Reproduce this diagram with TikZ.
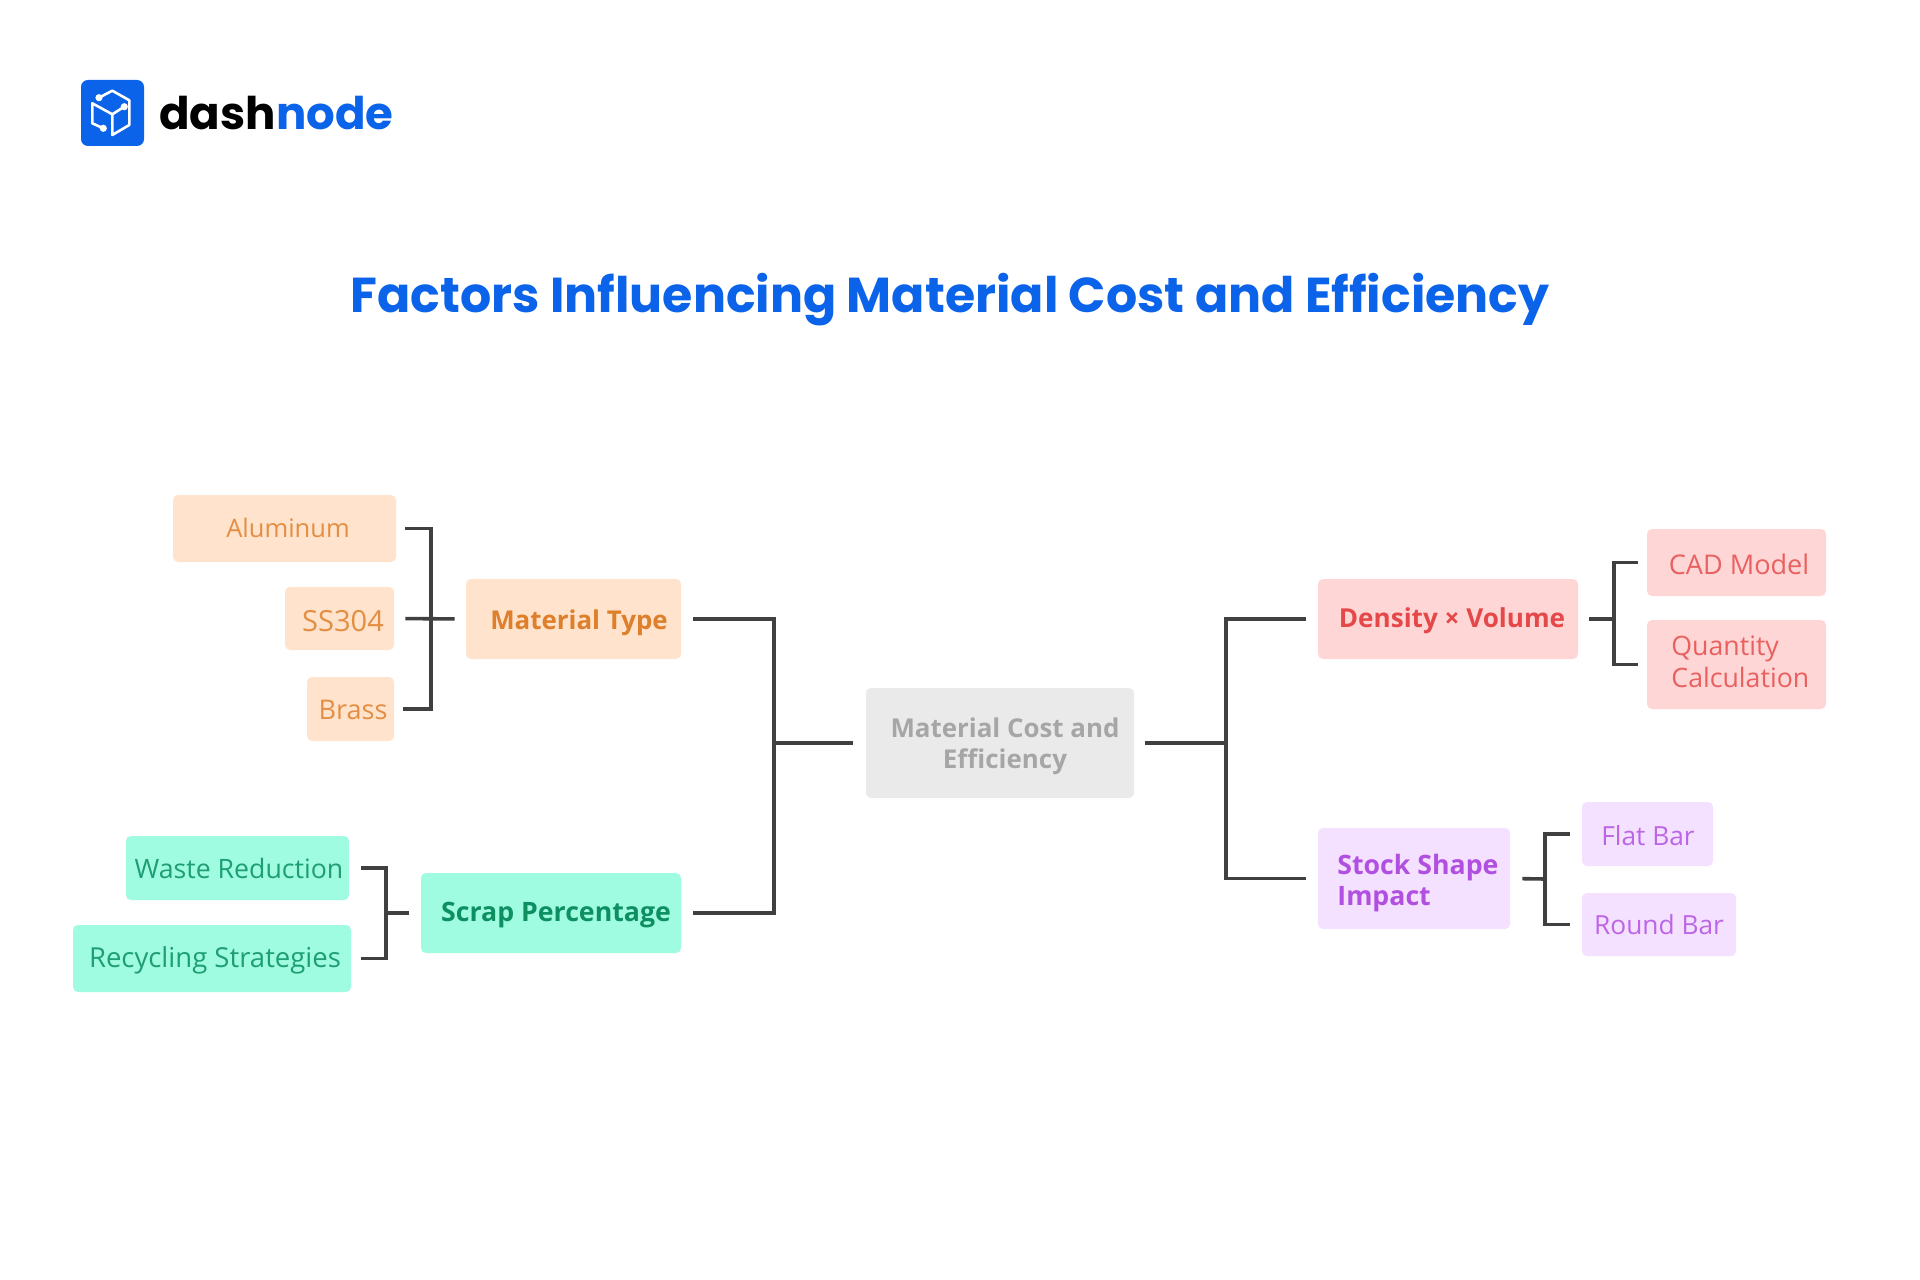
\documentclass[tikz,border=0pt]{standalone}
\usepackage{fontspec}
\setmainfont{Open Sans}
\newfontfamily\headfont{Poppins}
\definecolor{brand}{HTML}{0B63EA}
\definecolor{linec}{HTML}{404040}
\definecolor{orbg}{HTML}{FFE3CC}\definecolor{ortx}{HTML}{E38E43}\definecolor{ortb}{HTML}{DD7F2B}
\definecolor{grbg}{HTML}{9FFCE0}\definecolor{grtx}{HTML}{1E9E72}\definecolor{grtb}{HTML}{0E8F62}
\definecolor{rdbg}{HTML}{FFD6D6}\definecolor{rdtx}{HTML}{E96060}\definecolor{rdtb}{HTML}{E54848}
\definecolor{pubg}{HTML}{F4E0FF}\definecolor{putx}{HTML}{BC66E6}\definecolor{putb}{HTML}{B04FE0}
\definecolor{gybg}{HTML}{EAEAEA}\definecolor{gytx}{HTML}{A6A6A6}
\tikzset{
  x=0.5bp,y=-0.5bp,
  lab/.style={inner sep=0pt,font=\fontsize{#1}{16}\selectfont},
  lab/.default=13.2,
  labb/.style={inner sep=0pt,font=\fontsize{#1}{16}\selectfont\bfseries},
  labb/.default=13,
  conn/.style={draw=linec,line width=1.8pt,line join=miter},
}
% name, x0, y0, x1, y1, fill
\newcommand{\bx}[6]{\path[fill=#6,rounded corners=2.5pt] (#2,#3) rectangle (#4,#5);
  \path (#2,#3) -- (#4,#5) node[midway,inner sep=0pt,minimum width={(#4-#2)*0.5bp},minimum height={(#5-#3)*0.5bp}] (#1) {};}
\begin{document}
\begin{tikzpicture}
\useasboundingbox[fill=white] (0,0) rectangle (1920,1279.5);
% logo
\path[fill=brand,rounded corners=3.5pt] (81,80) rectangle (144,146);
\begin{scope}[line width=1.3pt,line join=round]
\draw[white] (99,97.7) -- (112.3,90.7) -- (129.3,100.3) -- (129.3,125) -- (112.3,135) -- (112.3,114.3) -- (124.3,106.7);
\draw[white] (112.3,114.3) -- (92.3,103.3) -- (92.3,123.3) -- (103.3,128.3);
\fill[white] (99,97.7) circle (1.8pt) (124.3,106.7) circle (1.8pt) (103.3,128.3) circle (1.8pt);
\end{scope}
\node[inner sep=0pt,anchor=base west,font=\headfont\bfseries\fontsize{22.6}{26}\selectfont] (logo) at (159,130) {dash\textcolor{brand}{node}};
% title
\node[inner sep=0pt,text=brand,font=\headfont\bfseries\fontsize{24.6}{28}\selectfont] (title) at (950,300) {Factors Influencing Material Cost and Efficiency};
% boxes
\bx{alu}{173}{495}{396}{562}{orbg}
\bx{ss}{285}{587}{394}{650}{orbg}
\bx{bra}{307}{677}{394}{741}{orbg}
\bx{mat}{466}{579}{681}{659}{orbg}
\bx{was}{126}{836}{349}{900}{grbg}
\bx{rec}{73}{925}{351}{992}{grbg}
\bx{scr}{421}{873}{681}{953}{grbg}
\bx{cen}{866}{688}{1134}{798}{gybg}
\bx{den}{1318}{579}{1578}{659}{rdbg}
\bx{cad}{1647}{529}{1826}{596}{rdbg}
\bx{qua}{1647}{620}{1826}{709}{rdbg}
\bx{sto}{1318}{828}{1510}{929}{pubg}
\bx{fla}{1582}{802}{1713}{866}{pubg}
\bx{rou}{1582}{893}{1736}{956}{pubg}
% labels
\node[lab=12.8,text=ortx] (talu) at (288,528) {Aluminum};
\node[lab=14.6,text=ortx] (tss) at (343,621) {SS304};
\node[lab=13.6,text=ortx] (tbra) at (353,710) {Brass};
\node[labb,text=ortb] (tmat) at (579,623) {Material Type};
\node[lab=13.4,text=grtx] (twas) at (239,868) {Waste Reduction};
\node[lab=13.8,text=grtx] (trec) at (215,960) {Recycling Strategies};
\node[labb=13.4,text=grtb] (tscr) at (556,915) {Scrap Percentage};
\node[labb,text=gytx,align=center] (tcen) at (1005,746) {Material Cost and\\[-0.5pt]Efficiency};
\node[labb=13.1,text=rdtb] (tden) at (1452,621) {Density × Volume};
\node[lab=13.6,text=rdtx] (tcad) at (1739,564) {CAD Model};
\node[lab=13.4,text=rdtx,align=left,anchor=west] (tqua) at (1671,662) {Quantity\\Calculation};
\node[labb=13.4,text=putb,align=left,anchor=west] (tsto) at (1337,883) {Stock Shape\\Impact};
\node[lab,text=putx] (tfla) at (1648,836) {Flat Bar};
\node[lab,text=putx] (trou) at (1659,925) {Round Bar};
% bus coordinates
\coordinate (b1) at (431,619);
\coordinate (b2) at (386,913);
\coordinate (b3) at (774,743);
\coordinate (b4) at (1226,743);
\coordinate (b5) at (1614,619);
\coordinate (b6) at (1545,879);
% connectors
\draw[conn,shorten <=4.5pt] (alu.east) -| (b1);
\draw[conn,shorten <=4.5pt] (bra.east) -| (b1);
\draw[conn,shorten <=5.5pt,shorten >=5.5pt] (ss.east) -- (mat.west);
\draw[conn,shorten <=6pt] (was.east) -| (b2);
\draw[conn,shorten <=5pt] (rec.east) -| (b2);
\draw[conn,shorten >=6pt] (b2) -- (scr.west);
\draw[conn,shorten <=6pt] (mat.east) -| (b3);
\draw[conn,shorten <=6pt] (scr.east) -| (b3);
\draw[conn,shorten <=6.5pt] (cen.west) -- (b3);
\draw[conn,shorten <=5.5pt] (cen.east) -- (b4);
\draw[conn,shorten <=6pt] (den.west) -| (b4);
\draw[conn,shorten <=6pt] (sto.west) -| (b4);
\draw[conn,shorten <=5.5pt] (den.east) -- (b5);
\draw[conn,shorten <=4.5pt] (cad.west) -| (b5);
\draw[conn,shorten <=4.5pt] (qua.west) -| (b5);
\draw[conn,shorten <=6pt] (sto.east) -- (b6);
\draw[conn,shorten <=6pt] (fla.west) -| (b6);
\draw[conn,shorten <=6pt] (rou.west) -| (b6);
\end{tikzpicture}
\end{document}
